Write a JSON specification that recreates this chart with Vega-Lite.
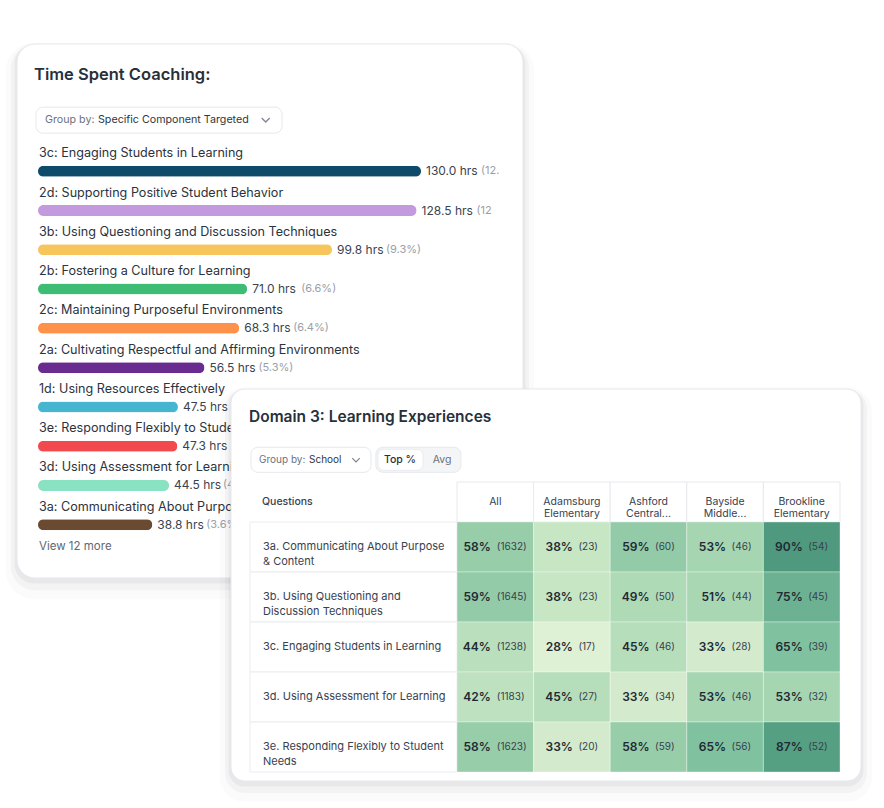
{
  "$schema": "https://vega.github.io/schema/vega-lite/v6.json",
  "background": "#ffffff",
  "padding": {"left": 6, "top": 42, "right": 0, "bottom": 0},
  "config": {
    "view": {"stroke": null},
    "font": "Inter",
    "text": {"font": "Inter"}
  },
  "datasets": {
    "coaching": [
      {"code": "3c", "label": "3c: Engaging Students in Learning", "hours": 130.0, "share": 12.1},
      {"code": "2d", "label": "2d: Supporting Positive Student Behavior", "hours": 128.5, "share": 12.0},
      {"code": "3b", "label": "3b: Using Questioning and Discussion Techniques", "hours": 99.8, "share": 9.3},
      {"code": "2b", "label": "2b: Fostering a Culture for Learning", "hours": 71.0, "share": 6.6},
      {"code": "2c", "label": "2c: Maintaining Purposeful Environments", "hours": 68.3, "share": 6.4},
      {"code": "2a", "label": "2a: Cultivating Respectful and Affirming Environments", "hours": 56.5, "share": 5.3},
      {"code": "1d", "label": "1d: Using Resources Effectively", "hours": 47.5, "share": 4.4},
      {"code": "3e", "label": "3e: Responding Flexibly to Student Needs", "hours": 47.3, "share": 4.4},
      {"code": "3d", "label": "3d: Using Assessment for Learning", "hours": 44.5, "share": 4.2},
      {"code": "3a", "label": "3a: Communicating About Purpose and Content", "hours": 38.8, "share": 3.6}
    ],
    "questions": [
      {"q": "3a", "text": "3a. Communicating About Purpose\n& Content"},
      {"q": "3b", "text": "3b. Using Questioning and\nDiscussion Techniques"},
      {"q": "3c", "text": "3c. Engaging Students in Learning"},
      {"q": "3d", "text": "3d. Using Assessment for Learning"},
      {"q": "3e", "text": "3e. Responding Flexibly to Student\nNeeds"}
    ],
    "schools": [
      {"school": "All"},
      {"school": "Adamsburg\nElementary"},
      {"school": "Ashford\nCentral..."},
      {"school": "Bayside\nMiddle..."},
      {"school": "Brookline\nElementary"}
    ],
    "domain3": [
      {"q": "3a", "school": "All", "pct": 58, "n": 1632},
      {"q": "3a", "school": "Adamsburg\nElementary", "pct": 38, "n": 23},
      {"q": "3a", "school": "Ashford\nCentral...", "pct": 59, "n": 60},
      {"q": "3a", "school": "Bayside\nMiddle...", "pct": 53, "n": 46},
      {"q": "3a", "school": "Brookline\nElementary", "pct": 90, "n": 54},
      {"q": "3b", "school": "All", "pct": 59, "n": 1645},
      {"q": "3b", "school": "Adamsburg\nElementary", "pct": 38, "n": 23},
      {"q": "3b", "school": "Ashford\nCentral...", "pct": 49, "n": 50},
      {"q": "3b", "school": "Bayside\nMiddle...", "pct": 51, "n": 44},
      {"q": "3b", "school": "Brookline\nElementary", "pct": 75, "n": 45},
      {"q": "3c", "school": "All", "pct": 44, "n": 1238},
      {"q": "3c", "school": "Adamsburg\nElementary", "pct": 28, "n": 17},
      {"q": "3c", "school": "Ashford\nCentral...", "pct": 45, "n": 46},
      {"q": "3c", "school": "Bayside\nMiddle...", "pct": 33, "n": 28},
      {"q": "3c", "school": "Brookline\nElementary", "pct": 65, "n": 39},
      {"q": "3d", "school": "All", "pct": 42, "n": 1183},
      {"q": "3d", "school": "Adamsburg\nElementary", "pct": 45, "n": 27},
      {"q": "3d", "school": "Ashford\nCentral...", "pct": 33, "n": 34},
      {"q": "3d", "school": "Bayside\nMiddle...", "pct": 53, "n": 46},
      {"q": "3d", "school": "Brookline\nElementary", "pct": 53, "n": 32},
      {"q": "3e", "school": "All", "pct": 58, "n": 1623},
      {"q": "3e", "school": "Adamsburg\nElementary", "pct": 33, "n": 20},
      {"q": "3e", "school": "Ashford\nCentral...", "pct": 58, "n": 59},
      {"q": "3e", "school": "Bayside\nMiddle...", "pct": 65, "n": 56},
      {"q": "3e", "school": "Brookline\nElementary", "pct": 87, "n": 52}
    ]
  },
  "bounds": "flush",
  "spacing": 0,
  "vconcat": [
    {
      "width": 506,
      "height": 345,
      "view": {"fill": null, "stroke": null},
      "layer": [
        {
          "data": {"values": [{"part": "shadow"}]},
          "mark": {"type": "rect", "width": 528, "height": 556, "xOffset": 232, "yOffset": 237, "fill": "#1f2937", "opacity": 0.02, "cornerRadius": 28},
          "encoding": {
            "x": {"datum": 0, "type": "quantitative", "scale": {"domain": [0, 130], "range": [21, 404], "nice": false}, "axis": null},
            "y": {"datum": "title", "type": "nominal", "scale": {"type": "band", "domain": ["title", "group", "3c", "2d", "3b", "2b", "2c", "2a", "1d", "3e", "3d", "3a", "more"], "range": [20.04, 530.68], "paddingInner": 0, "paddingOuter": 0}, "axis": null}
          }
        },
        {
          "data": {"values": [{"part": "shadow"}]},
          "mark": {"type": "rect", "width": 518, "height": 546, "xOffset": 232, "yOffset": 233.5, "fill": "#1f2937", "opacity": 0.035, "cornerRadius": 24},
          "encoding": {
            "x": {"datum": 0, "type": "quantitative", "scale": {"domain": [0, 130], "range": [21, 404], "nice": false}, "axis": null},
            "y": {"datum": "title", "type": "nominal", "scale": {"type": "band", "domain": ["title", "group", "3c", "2d", "3b", "2b", "2c", "2a", "1d", "3e", "3d", "3a", "more"], "range": [20.04, 530.68], "paddingInner": 0, "paddingOuter": 0}, "axis": null}
          }
        },
        {
          "data": {"values": [{"part": "shadow"}]},
          "mark": {"type": "rect", "width": 511, "height": 539, "xOffset": 232, "yOffset": 230.3, "fill": "#1f2937", "opacity": 0.05, "cornerRadius": 20},
          "encoding": {
            "x": {"datum": 0, "type": "quantitative", "scale": {"domain": [0, 130], "range": [21, 404], "nice": false}, "axis": null},
            "y": {"datum": "title", "type": "nominal", "scale": {"type": "band", "domain": ["title", "group", "3c", "2d", "3b", "2b", "2c", "2a", "1d", "3e", "3d", "3a", "more"], "range": [20.04, 530.68], "paddingInner": 0, "paddingOuter": 0}, "axis": null}
          }
        },
        {
          "data": {"values": [{"part": "card"}]},
          "mark": {"type": "rect", "width": 506, "height": 534, "xOffset": 232, "yOffset": 227.3, "fill": "#ffffff", "stroke": "#e6e8eb", "strokeWidth": 1, "cornerRadius": 18},
          "encoding": {
            "x": {"datum": 0, "type": "quantitative", "scale": {"domain": [0, 130], "range": [21, 404], "nice": false}, "axis": null},
            "y": {"datum": "title", "type": "nominal", "scale": {"type": "band", "domain": ["title", "group", "3c", "2d", "3b", "2b", "2c", "2a", "1d", "3e", "3d", "3a", "more"], "range": [20.04, 530.68], "paddingInner": 0, "paddingOuter": 0}, "axis": null}
          }
        },
        {
          "data": {"values": [{"text": "Time Spent Coaching:"}]},
          "mark": {"type": "text", "align": "left", "baseline": "middle", "fontSize": 16.5, "fontWeight": 600, "fill": "#27303b", "dx": -4, "dy": -9},
          "encoding": {
            "x": {"datum": 0, "type": "quantitative", "scale": {"domain": [0, 130], "range": [21, 404], "nice": false}, "axis": null},
            "y": {"datum": "title", "type": "nominal", "scale": {"type": "band", "domain": ["title", "group", "3c", "2d", "3b", "2b", "2c", "2a", "1d", "3e", "3d", "3a", "more"], "range": [20.04, 530.68], "paddingInner": 0, "paddingOuter": 0}, "axis": null},
            "text": {"field": "text"}
          }
        },
        {
          "data": {"values": [{"key": "Group by:", "value": "Specific Component Targeted"}]},
          "mark": {"type": "rect", "width": 246, "height": 26, "xOffset": 121, "yOffset": -2.8, "fill": "#ffffff", "stroke": "#e6e8eb", "strokeWidth": 1, "cornerRadius": 7},
          "encoding": {
            "x": {"datum": 0, "type": "quantitative", "scale": {"domain": [0, 130], "range": [21, 404], "nice": false}, "axis": null},
            "y": {"datum": "group", "type": "nominal", "scale": {"type": "band", "domain": ["title", "group", "3c", "2d", "3b", "2b", "2c", "2a", "1d", "3e", "3d", "3a", "more"], "range": [20.04, 530.68], "paddingInner": 0, "paddingOuter": 0}, "axis": null}
          }
        },
        {
          "data": {"values": [{"key": "Group by:", "value": "Specific Component Targeted"}]},
          "mark": {"type": "text", "align": "left", "baseline": "middle", "fontSize": 10.7, "fill": "#6b7280", "dx": 7, "dy": -2.8},
          "encoding": {
            "x": {"datum": 0, "type": "quantitative", "scale": {"domain": [0, 130], "range": [21, 404], "nice": false}, "axis": null},
            "y": {"datum": "group", "type": "nominal", "scale": {"type": "band", "domain": ["title", "group", "3c", "2d", "3b", "2b", "2c", "2a", "1d", "3e", "3d", "3a", "more"], "range": [20.04, 530.68], "paddingInner": 0, "paddingOuter": 0}, "axis": null},
            "text": {"field": "key"}
          }
        },
        {
          "data": {"values": [{"key": "Group by:", "value": "Specific Component Targeted"}]},
          "mark": {"type": "text", "align": "left", "baseline": "middle", "fontSize": 10.7, "fill": "#2f3742", "dx": 60, "dy": -2.8},
          "encoding": {
            "x": {"datum": 0, "type": "quantitative", "scale": {"domain": [0, 130], "range": [21, 404], "nice": false}, "axis": null},
            "y": {"datum": "group", "type": "nominal", "scale": {"type": "band", "domain": ["title", "group", "3c", "2d", "3b", "2b", "2c", "2a", "1d", "3e", "3d", "3a", "more"], "range": [20.04, 530.68], "paddingInner": 0, "paddingOuter": 0}, "axis": null},
            "text": {"field": "value"}
          }
        },
        {
          "data": {"values": [{"key": "chevron"}]},
          "mark": {"type": "point", "shape": "M-1,-0.5L0,0.5L1,-0.5", "size": 64, "filled": false, "stroke": "#4b5563", "strokeWidth": 1.3, "xOffset": 227.7, "yOffset": -3},
          "encoding": {
            "x": {"datum": 0, "type": "quantitative", "scale": {"domain": [0, 130], "range": [21, 404], "nice": false}, "axis": null},
            "y": {"datum": "group", "type": "nominal", "scale": {"type": "band", "domain": ["title", "group", "3c", "2d", "3b", "2b", "2c", "2a", "1d", "3e", "3d", "3a", "more"], "range": [20.04, 530.68], "paddingInner": 0, "paddingOuter": 0}, "axis": null}
          }
        },
        {
          "data": {"name": "coaching"},
          "mark": {"type": "text", "align": "left", "baseline": "middle", "fontSize": 12.6, "fill": "#2b333e", "dx": 1, "dy": -9},
          "encoding": {
            "x": {"datum": 0, "type": "quantitative", "scale": {"domain": [0, 130], "range": [21, 404], "nice": false}, "axis": null},
            "y": {"field": "code", "type": "nominal", "scale": {"type": "band", "domain": ["title", "group", "3c", "2d", "3b", "2b", "2c", "2a", "1d", "3e", "3d", "3a", "more"], "range": [20.04, 530.68], "paddingInner": 0, "paddingOuter": 0}, "axis": null},
            "text": {"field": "label"}
          }
        },
        {
          "data": {"name": "coaching"},
          "mark": {"type": "bar", "height": 11, "cornerRadius": 5.5, "yOffset": 9},
          "encoding": {
            "x": {"field": "hours", "type": "quantitative", "scale": {"domain": [0, 130], "range": [21, 404], "nice": false}, "axis": null},
            "y": {"field": "code", "type": "nominal", "scale": {"type": "band", "domain": ["title", "group", "3c", "2d", "3b", "2b", "2c", "2a", "1d", "3e", "3d", "3a", "more"], "range": [20.04, 530.68], "paddingInner": 0, "paddingOuter": 0}, "axis": null},
            "color": {
              "field": "code",
              "type": "nominal",
              "scale": {
                "domain": ["3c", "2d", "3b", "2b", "2c", "2a", "1d", "3e", "3d", "3a"],
                "range": ["#0e4b6a", "#c49ade", "#f6c65c", "#3dbd73", "#fe924a", "#6a2b91", "#46b5cf", "#f2494f", "#89e2c1", "#6a4a31"]
              },
              "legend": null
            }
          }
        },
        {
          "data": {"name": "coaching"},
          "transform": [{"calculate": "format(datum.hours, '.1f') + ' hrs'", "as": "hrsText"}],
          "mark": {"type": "text", "align": "left", "baseline": "middle", "fontSize": 12, "fill": "#3a434e", "dx": 5, "dy": 9},
          "encoding": {
            "x": {"field": "hours", "type": "quantitative", "scale": {"domain": [0, 130], "range": [21, 404], "nice": false}, "axis": null},
            "y": {"field": "code", "type": "nominal", "scale": {"type": "band", "domain": ["title", "group", "3c", "2d", "3b", "2b", "2c", "2a", "1d", "3e", "3d", "3a", "more"], "range": [20.04, 530.68], "paddingInner": 0, "paddingOuter": 0}, "axis": null},
            "text": {"field": "hrsText"}
          }
        },
        {
          "data": {"name": "coaching"},
          "transform": [
            {"filter": "datum.hours >= 100"},
            {"calculate": "'(' + replace(format(datum.share, '.1f'), '.0', '') + '%)'", "as": "shareText"}
          ],
          "mark": {"type": "text", "align": "left", "baseline": "middle", "fontSize": 11, "fill": "#9aa0a8", "dx": 60, "dy": 9, "limit": 20, "ellipsis": "\u200b"},
          "encoding": {
            "x": {"field": "hours", "type": "quantitative", "scale": {"domain": [0, 130], "range": [21, 404], "nice": false}, "axis": null},
            "y": {"field": "code", "type": "nominal", "scale": {"type": "band", "domain": ["title", "group", "3c", "2d", "3b", "2b", "2c", "2a", "1d", "3e", "3d", "3a", "more"], "range": [20.04, 530.68], "paddingInner": 0, "paddingOuter": 0}, "axis": null},
            "text": {"field": "shareText"}
          }
        },
        {
          "data": {"name": "coaching"},
          "transform": [
            {"filter": "datum.hours < 100"},
            {"calculate": "'(' + replace(format(datum.share, '.1f'), '.0', '') + '%)'", "as": "shareText"}
          ],
          "mark": {"type": "text", "align": "left", "baseline": "middle", "fontSize": 11, "fill": "#9aa0a8", "dx": 54, "dy": 9},
          "encoding": {
            "x": {"field": "hours", "type": "quantitative", "scale": {"domain": [0, 130], "range": [21, 404], "nice": false}, "axis": null},
            "y": {"field": "code", "type": "nominal", "scale": {"type": "band", "domain": ["title", "group", "3c", "2d", "3b", "2b", "2c", "2a", "1d", "3e", "3d", "3a", "more"], "range": [20.04, 530.68], "paddingInner": 0, "paddingOuter": 0}, "axis": null},
            "text": {"field": "shareText"}
          }
        },
        {
          "data": {"values": [{"text": "View 12 more"}]},
          "mark": {"type": "text", "align": "left", "baseline": "middle", "fontSize": 11.5, "fill": "#5f6873", "dx": 1, "dy": -8},
          "encoding": {
            "x": {"datum": 0, "type": "quantitative", "scale": {"domain": [0, 130], "range": [21, 404], "nice": false}, "axis": null},
            "y": {"datum": "more", "type": "nominal", "scale": {"type": "band", "domain": ["title", "group", "3c", "2d", "3b", "2b", "2c", "2a", "1d", "3e", "3d", "3a", "more"], "range": [20.04, 530.68], "paddingInner": 0, "paddingOuter": 0}, "axis": null},
            "text": {"field": "text"}
          }
        }
      ]
    },
    {
      "spacing": 0,
      "bounds": "flush",
      "hconcat": [
        {
          "width": 214,
          "height": 10,
          "view": {"stroke": null, "fill": null},
          "data": {"values": [{}]},
          "mark": {"type": "point", "opacity": 0},
          "encoding": {}
        },
        {
          "width": 630,
          "height": 392,
          "view": {"fill": null, "stroke": null},
          "layer": [
            {
              "data": {"values": [{"part": "shadow"}]},
              "mark": {"type": "rect", "width": 652, "height": 414, "xOffset": 50.7, "yOffset": 147.5, "fill": "#1f2937", "opacity": 0.02, "cornerRadius": 24},
              "encoding": {
                "x": {"datum": "All", "type": "nominal", "scale": {"type": "band", "domain": ["All", "Adamsburg\nElementary", "Ashford\nCentral...", "Bayside\nMiddle...", "Brookline\nElementary"], "range": [226, 609], "paddingInner": 0, "paddingOuter": 0}, "axis": null},
                "y": {"datum": "top", "type": "nominal", "scale": {"type": "band", "domain": ["top", "header", "3a", "3b", "3c", "3d", "3e"], "paddingInner": 0, "paddingOuter": 0.42, "align": 0.786}, "axis": null}
              }
            },
            {
              "data": {"values": [{"part": "shadow"}]},
              "mark": {"type": "rect", "width": 642, "height": 404, "xOffset": 50.7, "yOffset": 144, "fill": "#1f2937", "opacity": 0.035, "cornerRadius": 20},
              "encoding": {
                "x": {"datum": "All", "type": "nominal", "scale": {"type": "band", "domain": ["All", "Adamsburg\nElementary", "Ashford\nCentral...", "Bayside\nMiddle...", "Brookline\nElementary"], "range": [226, 609], "paddingInner": 0, "paddingOuter": 0}, "axis": null},
                "y": {"datum": "top", "type": "nominal", "scale": {"type": "band", "domain": ["top", "header", "3a", "3b", "3c", "3d", "3e"], "paddingInner": 0, "paddingOuter": 0.42, "align": 0.786}, "axis": null}
              }
            },
            {
              "data": {"values": [{"part": "shadow"}]},
              "mark": {"type": "rect", "width": 635, "height": 397, "xOffset": 50.7, "yOffset": 141, "fill": "#1f2937", "opacity": 0.05, "cornerRadius": 16},
              "encoding": {
                "x": {"datum": "All", "type": "nominal", "scale": {"type": "band", "domain": ["All", "Adamsburg\nElementary", "Ashford\nCentral...", "Bayside\nMiddle...", "Brookline\nElementary"], "range": [226, 609], "paddingInner": 0, "paddingOuter": 0}, "axis": null},
                "y": {"datum": "top", "type": "nominal", "scale": {"type": "band", "domain": ["top", "header", "3a", "3b", "3c", "3d", "3e"], "paddingInner": 0, "paddingOuter": 0.42, "align": 0.786}, "axis": null}
              }
            },
            {
              "data": {"values": [{"part": "card"}]},
              "mark": {"type": "rect", "width": 630, "height": 392, "xOffset": 50.7, "yOffset": 138, "fill": "#ffffff", "stroke": "#e6e8eb", "strokeWidth": 1, "cornerRadius": 14},
              "encoding": {
                "x": {"datum": "All", "type": "nominal", "scale": {"type": "band", "domain": ["All", "Adamsburg\nElementary", "Ashford\nCentral...", "Bayside\nMiddle...", "Brookline\nElementary"], "range": [226, 609], "paddingInner": 0, "paddingOuter": 0}, "axis": null},
                "y": {"datum": "top", "type": "nominal", "scale": {"type": "band", "domain": ["top", "header", "3a", "3b", "3c", "3d", "3e"], "paddingInner": 0, "paddingOuter": 0.42, "align": 0.786}, "axis": null}
              }
            },
            {
              "data": {"values": [{"text": "Domain 3: Learning Experiences"}]},
              "mark": {"type": "text", "align": "left", "baseline": "middle", "fontSize": 15.5, "fontWeight": 600, "fill": "#27303b", "dx": -208, "dy": -30},
              "encoding": {
                "x": {"datum": "All", "type": "nominal", "bandPosition": 0, "scale": {"type": "band", "domain": ["All", "Adamsburg\nElementary", "Ashford\nCentral...", "Bayside\nMiddle...", "Brookline\nElementary"], "range": [226, 609], "paddingInner": 0, "paddingOuter": 0}, "axis": null},
                "y": {"datum": "top", "type": "nominal", "scale": {"type": "band", "domain": ["top", "header", "3a", "3b", "3c", "3d", "3e"], "paddingInner": 0, "paddingOuter": 0.42, "align": 0.786}, "axis": null},
                "text": {"field": "text"}
              }
            },
            {
              "data": {"values": [{"control": "group"}]},
              "mark": {"type": "rect", "width": 120, "height": 25, "xOffset": -184.3, "yOffset": 12.8, "fill": "#ffffff", "stroke": "#e6e8eb", "strokeWidth": 1, "cornerRadius": 7},
              "encoding": {
                "x": {"datum": "All", "type": "nominal", "scale": {"type": "band", "domain": ["All", "Adamsburg\nElementary", "Ashford\nCentral...", "Bayside\nMiddle...", "Brookline\nElementary"], "range": [226, 609], "paddingInner": 0, "paddingOuter": 0}, "axis": null},
                "y": {"datum": "top", "type": "nominal", "scale": {"type": "band", "domain": ["top", "header", "3a", "3b", "3c", "3d", "3e"], "paddingInner": 0, "paddingOuter": 0.42, "align": 0.786}, "axis": null}
              }
            },
            {
              "data": {"values": [{"control": "toggle"}]},
              "mark": {"type": "rect", "width": 85, "height": 25, "xOffset": -76.9, "yOffset": 12.8, "fill": "#f4f5f7", "stroke": "#e6e8eb", "strokeWidth": 1, "cornerRadius": 7},
              "encoding": {
                "x": {"datum": "All", "type": "nominal", "scale": {"type": "band", "domain": ["All", "Adamsburg\nElementary", "Ashford\nCentral...", "Bayside\nMiddle...", "Brookline\nElementary"], "range": [226, 609], "paddingInner": 0, "paddingOuter": 0}, "axis": null},
                "y": {"datum": "top", "type": "nominal", "scale": {"type": "band", "domain": ["top", "header", "3a", "3b", "3c", "3d", "3e"], "paddingInner": 0, "paddingOuter": 0.42, "align": 0.786}, "axis": null}
              }
            },
            {
              "data": {"values": [{"control": "selected"}]},
              "mark": {"type": "rect", "width": 45, "height": 21, "xOffset": -94.8, "yOffset": 12.8, "fill": "#ffffff", "stroke": "#e9ebee", "strokeWidth": 1, "cornerRadius": 6},
              "encoding": {
                "x": {"datum": "All", "type": "nominal", "scale": {"type": "band", "domain": ["All", "Adamsburg\nElementary", "Ashford\nCentral...", "Bayside\nMiddle...", "Brookline\nElementary"], "range": [226, 609], "paddingInner": 0, "paddingOuter": 0}, "axis": null},
                "y": {"datum": "top", "type": "nominal", "scale": {"type": "band", "domain": ["top", "header", "3a", "3b", "3c", "3d", "3e"], "paddingInner": 0, "paddingOuter": 0.42, "align": 0.786}, "axis": null}
              }
            },
            {
              "data": {"values": [{"text": "Group by:"}]},
              "mark": {"type": "text", "align": "left", "baseline": "middle", "fontSize": 10, "fill": "#6b7280", "dx": -198, "dy": 13},
              "encoding": {
                "x": {"datum": "All", "type": "nominal", "bandPosition": 0, "scale": {"type": "band", "domain": ["All", "Adamsburg\nElementary", "Ashford\nCentral...", "Bayside\nMiddle...", "Brookline\nElementary"], "range": [226, 609], "paddingInner": 0, "paddingOuter": 0}, "axis": null},
                "y": {"datum": "top", "type": "nominal", "scale": {"type": "band", "domain": ["top", "header", "3a", "3b", "3c", "3d", "3e"], "paddingInner": 0, "paddingOuter": 0.42, "align": 0.786}, "axis": null},
                "text": {"field": "text"}
              }
            },
            {
              "data": {"values": [{"text": "School"}]},
              "mark": {"type": "text", "align": "left", "baseline": "middle", "fontSize": 10, "fill": "#2f3742", "dx": -148, "dy": 13},
              "encoding": {
                "x": {"datum": "All", "type": "nominal", "bandPosition": 0, "scale": {"type": "band", "domain": ["All", "Adamsburg\nElementary", "Ashford\nCentral...", "Bayside\nMiddle...", "Brookline\nElementary"], "range": [226, 609], "paddingInner": 0, "paddingOuter": 0}, "axis": null},
                "y": {"datum": "top", "type": "nominal", "scale": {"type": "band", "domain": ["top", "header", "3a", "3b", "3c", "3d", "3e"], "paddingInner": 0, "paddingOuter": 0.42, "align": 0.786}, "axis": null},
                "text": {"field": "text"}
              }
            },
            {
              "data": {"values": [{"control": "chevron"}]},
              "mark": {"type": "point", "shape": "M-1,-0.5L0,0.5L1,-0.5", "size": 56, "filled": false, "stroke": "#4b5563", "strokeWidth": 1.3, "xOffset": -101, "yOffset": 13},
              "encoding": {
                "x": {"datum": "All", "type": "nominal", "bandPosition": 0, "scale": {"type": "band", "domain": ["All", "Adamsburg\nElementary", "Ashford\nCentral...", "Bayside\nMiddle...", "Brookline\nElementary"], "range": [226, 609], "paddingInner": 0, "paddingOuter": 0}, "axis": null},
                "y": {"datum": "top", "type": "nominal", "scale": {"type": "band", "domain": ["top", "header", "3a", "3b", "3c", "3d", "3e"], "paddingInner": 0, "paddingOuter": 0.42, "align": 0.786}, "axis": null}
              }
            },
            {
              "data": {"values": [{"text": "Top %"}]},
              "mark": {"type": "text", "align": "center", "baseline": "middle", "fontSize": 10.5, "fontWeight": 500, "fill": "#27303b", "dx": -57, "dy": 13},
              "encoding": {
                "x": {"datum": "All", "type": "nominal", "bandPosition": 0, "scale": {"type": "band", "domain": ["All", "Adamsburg\nElementary", "Ashford\nCentral...", "Bayside\nMiddle...", "Brookline\nElementary"], "range": [226, 609], "paddingInner": 0, "paddingOuter": 0}, "axis": null},
                "y": {"datum": "top", "type": "nominal", "scale": {"type": "band", "domain": ["top", "header", "3a", "3b", "3c", "3d", "3e"], "paddingInner": 0, "paddingOuter": 0.42, "align": 0.786}, "axis": null},
                "text": {"field": "text"}
              }
            },
            {
              "data": {"values": [{"text": "Avg"}]},
              "mark": {"type": "text", "align": "center", "baseline": "middle", "fontSize": 10.5, "fill": "#6b7280", "dx": -15, "dy": 13},
              "encoding": {
                "x": {"datum": "All", "type": "nominal", "bandPosition": 0, "scale": {"type": "band", "domain": ["All", "Adamsburg\nElementary", "Ashford\nCentral...", "Bayside\nMiddle...", "Brookline\nElementary"], "range": [226, 609], "paddingInner": 0, "paddingOuter": 0}, "axis": null},
                "y": {"datum": "top", "type": "nominal", "scale": {"type": "band", "domain": ["top", "header", "3a", "3b", "3c", "3d", "3e"], "paddingInner": 0, "paddingOuter": 0.42, "align": 0.786}, "axis": null},
                "text": {"field": "text"}
              }
            },
            {
              "data": {"values": [{"text": "Questions"}]},
              "mark": {"type": "text", "align": "left", "baseline": "middle", "fontSize": 10.5, "fontWeight": 500, "fill": "#374151", "dx": -195, "dy": 5},
              "encoding": {
                "x": {"datum": "All", "type": "nominal", "bandPosition": 0, "scale": {"type": "band", "domain": ["All", "Adamsburg\nElementary", "Ashford\nCentral...", "Bayside\nMiddle...", "Brookline\nElementary"], "range": [226, 609], "paddingInner": 0, "paddingOuter": 0}, "axis": null},
                "y": {"datum": "header", "type": "nominal", "scale": {"type": "band", "domain": ["top", "header", "3a", "3b", "3c", "3d", "3e"], "paddingInner": 0, "paddingOuter": 0.42, "align": 0.786}, "axis": null},
                "text": {"field": "text"}
              }
            },
            {
              "data": {"name": "schools"},
              "mark": {"type": "rect", "height": 40, "yOffset": 5, "fill": "#ffffff", "stroke": "#e7e9ec", "strokeWidth": 1},
              "encoding": {
                "x": {"field": "school", "type": "nominal", "scale": {"type": "band", "domain": ["All", "Adamsburg\nElementary", "Ashford\nCentral...", "Bayside\nMiddle...", "Brookline\nElementary"], "range": [226, 609], "paddingInner": 0, "paddingOuter": 0}, "axis": null},
                "y": {"datum": "header", "type": "nominal", "scale": {"type": "band", "domain": ["top", "header", "3a", "3b", "3c", "3d", "3e"], "paddingInner": 0, "paddingOuter": 0.42, "align": 0.786}, "axis": null}
              }
            },
            {
              "data": {"name": "schools"},
              "mark": {"type": "text", "align": "center", "baseline": "middle", "fontSize": 10.5, "fill": "#374151", "lineBreak": "\n", "lineHeight": 12, "dy": 5},
              "encoding": {
                "x": {"field": "school", "type": "nominal", "scale": {"type": "band", "domain": ["All", "Adamsburg\nElementary", "Ashford\nCentral...", "Bayside\nMiddle...", "Brookline\nElementary"], "range": [226, 609], "paddingInner": 0, "paddingOuter": 0}, "axis": null},
                "y": {"datum": "header", "type": "nominal", "scale": {"type": "band", "domain": ["top", "header", "3a", "3b", "3c", "3d", "3e"], "paddingInner": 0, "paddingOuter": 0.42, "align": 0.786}, "axis": null},
                "text": {"field": "school"}
              }
            },
            {
              "data": {"name": "questions"},
              "mark": {"type": "rect", "width": 207, "xOffset": -141.8, "fill": "#ffffff", "stroke": "#eaecef", "strokeWidth": 1},
              "encoding": {
                "x": {"datum": "All", "type": "nominal", "scale": {"type": "band", "domain": ["All", "Adamsburg\nElementary", "Ashford\nCentral...", "Bayside\nMiddle...", "Brookline\nElementary"], "range": [226, 609], "paddingInner": 0, "paddingOuter": 0}, "axis": null},
                "y": {"field": "q", "type": "nominal", "scale": {"type": "band", "domain": ["top", "header", "3a", "3b", "3c", "3d", "3e"], "paddingInner": 0, "paddingOuter": 0.42, "align": 0.786}, "axis": null}
              }
            },
            {
              "data": {"name": "questions"},
              "mark": {"type": "text", "align": "left", "baseline": "middle", "fontSize": 11, "fill": "#374151", "lineBreak": "\n", "lineHeight": 15, "dx": -194},
              "encoding": {
                "x": {"datum": "All", "type": "nominal", "bandPosition": 0, "scale": {"type": "band", "domain": ["All", "Adamsburg\nElementary", "Ashford\nCentral...", "Bayside\nMiddle...", "Brookline\nElementary"], "range": [226, 609], "paddingInner": 0, "paddingOuter": 0}, "axis": null},
                "y": {"field": "q", "type": "nominal", "scale": {"type": "band", "domain": ["top", "header", "3a", "3b", "3c", "3d", "3e"], "paddingInner": 0, "paddingOuter": 0.42, "align": 0.786}, "axis": null},
                "text": {"field": "text"}
              }
            },
            {
              "data": {"name": "domain3"},
              "mark": {"type": "rect", "stroke": "#ffffff", "strokeOpacity": 0.35, "strokeWidth": 1},
              "encoding": {
                "x": {"field": "school", "type": "nominal", "scale": {"type": "band", "domain": ["All", "Adamsburg\nElementary", "Ashford\nCentral...", "Bayside\nMiddle...", "Brookline\nElementary"], "range": [226, 609], "paddingInner": 0, "paddingOuter": 0}, "axis": null},
                "y": {"field": "q", "type": "nominal", "scale": {"type": "band", "domain": ["top", "header", "3a", "3b", "3c", "3d", "3e"], "paddingInner": 0, "paddingOuter": 0.42, "align": 0.786}, "axis": null},
                "color": {
                  "field": "pct",
                  "type": "quantitative",
                  "scale": {"domain": [28, 38, 53, 65, 90], "range": ["#dff1d5", "#c6e6c4", "#a6d5b1", "#80c29f", "#4f9a7e"]},
                  "legend": null
                }
              }
            },
            {
              "data": {"name": "domain3"},
              "transform": [{"filter": "datum.school == 'All'"}, {"calculate": "datum.pct + '%'", "as": "pctText"}],
              "mark": {"type": "text", "align": "right", "baseline": "middle", "fontSize": 12, "fontWeight": 600, "fill": "#1f2933", "dx": -4.5},
              "encoding": {
                "x": {"field": "school", "type": "nominal", "scale": {"type": "band", "domain": ["All", "Adamsburg\nElementary", "Ashford\nCentral...", "Bayside\nMiddle...", "Brookline\nElementary"], "range": [226, 609], "paddingInner": 0, "paddingOuter": 0}, "axis": null},
                "y": {"field": "q", "type": "nominal", "scale": {"type": "band", "domain": ["top", "header", "3a", "3b", "3c", "3d", "3e"], "paddingInner": 0, "paddingOuter": 0.42, "align": 0.786}, "axis": null},
                "text": {"field": "pctText"}
              }
            },
            {
              "data": {"name": "domain3"},
              "transform": [{"filter": "datum.school == 'All'"}, {"calculate": "'(' + datum.n + ')'", "as": "nText"}],
              "mark": {"type": "text", "align": "left", "baseline": "middle", "fontSize": 10, "fill": "#37414d", "dx": 1.5},
              "encoding": {
                "x": {"field": "school", "type": "nominal", "scale": {"type": "band", "domain": ["All", "Adamsburg\nElementary", "Ashford\nCentral...", "Bayside\nMiddle...", "Brookline\nElementary"], "range": [226, 609], "paddingInner": 0, "paddingOuter": 0}, "axis": null},
                "y": {"field": "q", "type": "nominal", "scale": {"type": "band", "domain": ["top", "header", "3a", "3b", "3c", "3d", "3e"], "paddingInner": 0, "paddingOuter": 0.42, "align": 0.786}, "axis": null},
                "text": {"field": "nText"}
              }
            },
            {
              "data": {"name": "domain3"},
              "transform": [{"filter": "datum.school != 'All'"}, {"calculate": "datum.pct + '%'", "as": "pctText"}],
              "mark": {"type": "text", "align": "right", "baseline": "middle", "fontSize": 12, "fontWeight": 600, "fill": "#1f2933", "dx": 1},
              "encoding": {
                "x": {"field": "school", "type": "nominal", "scale": {"type": "band", "domain": ["All", "Adamsburg\nElementary", "Ashford\nCentral...", "Bayside\nMiddle...", "Brookline\nElementary"], "range": [226, 609], "paddingInner": 0, "paddingOuter": 0}, "axis": null},
                "y": {"field": "q", "type": "nominal", "scale": {"type": "band", "domain": ["top", "header", "3a", "3b", "3c", "3d", "3e"], "paddingInner": 0, "paddingOuter": 0.42, "align": 0.786}, "axis": null},
                "text": {"field": "pctText"}
              }
            },
            {
              "data": {"name": "domain3"},
              "transform": [{"filter": "datum.school != 'All'"}, {"calculate": "'(' + datum.n + ')'", "as": "nText"}],
              "mark": {"type": "text", "align": "left", "baseline": "middle", "fontSize": 10, "fill": "#37414d", "dx": 6.5},
              "encoding": {
                "x": {"field": "school", "type": "nominal", "scale": {"type": "band", "domain": ["All", "Adamsburg\nElementary", "Ashford\nCentral...", "Bayside\nMiddle...", "Brookline\nElementary"], "range": [226, 609], "paddingInner": 0, "paddingOuter": 0}, "axis": null},
                "y": {"field": "q", "type": "nominal", "scale": {"type": "band", "domain": ["top", "header", "3a", "3b", "3c", "3d", "3e"], "paddingInner": 0, "paddingOuter": 0.42, "align": 0.786}, "axis": null},
                "text": {"field": "nText"}
              }
            }
          ]
        }
      ]
    }
  ]
}
